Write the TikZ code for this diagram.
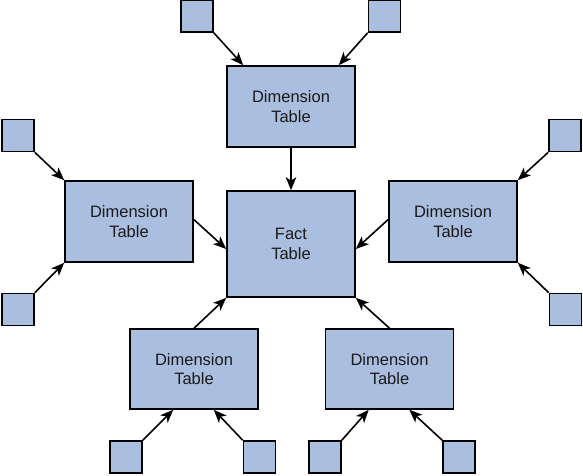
\documentclass[tikz,border=0pt]{standalone}
\usepackage{fontspec}
\setmainfont{Liberation Sans}
\usepackage{xcolor}
\usepackage{tikz}
\usetikzlibrary{arrows.meta,positioning}
\definecolor{tblfill}{HTML}{AABEDF}
\definecolor{tbltext}{HTML}{1A1A1A}
\tikzset{
  dimtab/.style={draw=black, fill=tblfill, line width=1.6pt, minimum width=128pt,
    minimum height=81pt, align=center, inner sep=0pt, text=tbltext,
    font=\fontsize{16.5}{19.5}\selectfont},
  facttab/.style={dimtab, minimum height=106pt},
  keybox/.style={draw=black, fill=tblfill, line width=1.6pt, minimum width=32pt,
    minimum height=32pt, inner sep=0pt},
  flow/.style={-{Stealth[length=13pt,width=10.5pt,inset=3.5pt]}, line width=1.6pt},
}
\begin{document}
\begin{tikzpicture}[x=1pt,y=-1pt]
\useasboundingbox (0,0) rectangle (583,475);
\node[facttab] (fact) at (291,244) {Fact\\Table};
\node[dimtab] (dtop) at (291,106.5) {Dimension\\Table};
\node[dimtab] (dleft) at (129,221.5) {Dimension\\Table};
\node[dimtab] (dright) at (453,221.5) {Dimension\\Table};
\node[dimtab, minimum height=80pt] (dbl) at (194,369) {Dimension\\Table};
\node[dimtab, minimum height=80pt] (dbr) at (389.5,369) {Dimension\\Table};

% key tables
\node[keybox] (k1) at (197,16) {};
\node[keybox] (k2) at (384.5,16) {};
\node[keybox] (k3) at (18,135.5) {};
\node[keybox] (k4) at (18,309.5) {};
\node[keybox] (k5) at (565,135.5) {};
\node[keybox] (k6) at (565.5,309.5) {};
\node[keybox] (k7) at (126,457) {};
\node[keybox] (k8) at (259.5,457) {};
\node[keybox] (k9) at (325,457) {};
\node[keybox] (k10) at (459,457) {};

\draw[flow] (k1.south east) -- ([xshift=17pt]dtop.north west);
\draw[flow] (k2.south west) -- ([xshift=-17pt]dtop.north east);
\draw[flow] (k3.south east) -- (dleft.north west);
\draw[flow] (k4.north east) -- (dleft.south west);
\draw[flow] (k5.south west) -- (dright.north east);
\draw[flow] (k6.north west) -- (dright.south east);
\draw[flow] (k7.north east) -- ([xshift=44pt]dbl.south west);
\draw[flow] (k8.north west) -- ([xshift=-45pt]dbl.south east);
\draw[flow] (k9.north east) -- ([xshift=44pt]dbr.south west);
\draw[flow] (k10.north west) -- ([xshift=-45pt]dbr.south east);

\draw[flow] (dtop) -- (fact);
\draw[flow] ([yshift=2pt]dleft.east) -- ([yshift=-5pt]fact.west);
\draw[flow] ([yshift=2pt]dright.west) -- ([yshift=-5pt]fact.east);
\draw[flow] (dbl.north) -- (fact.south west);
\draw[flow] (dbr.north) -- (fact.south east);
\end{tikzpicture}
\end{document}
